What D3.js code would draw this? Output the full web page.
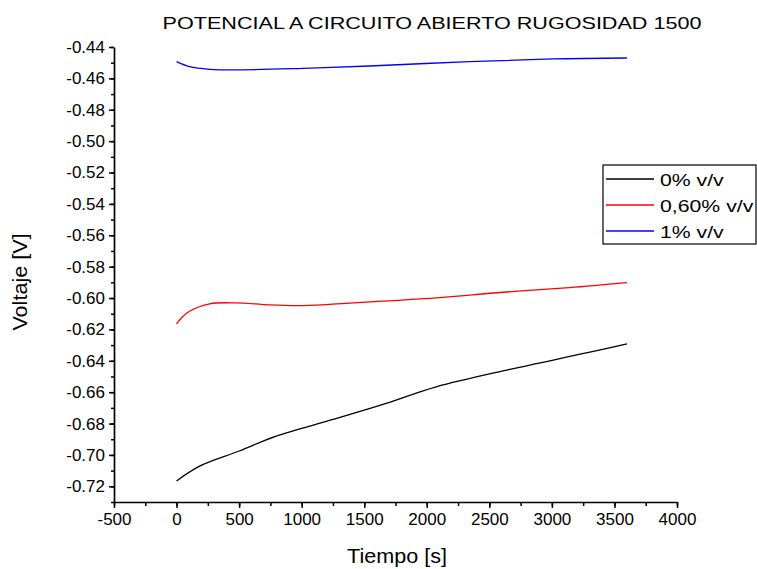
<!DOCTYPE html>
<html>
<head>
<meta charset="utf-8">
<script src="https://cdn.jsdelivr.net/npm/d3@7"></script>
<style>
  body { margin: 0; background: #fff; }
  text { font-family: "Liberation Sans", Arial, sans-serif; fill: #000; }
</style>
</head>
<body>
<div id="chart"></div>
<script>
// Chart data
const seriesNames = ["0% v/v", "0,60% v/v", "1% v/v"];
const seriesColors = ["#000000", "#ff0000", "#0000ff"];

const tBlack = [0, 184, 500, 797, 1250, 1650, 2075, 2662, 3275, 3600];
const vBlack = [-0.7166, -0.7071, -0.6975, -0.688, -0.6774, -0.6678, -0.6566, -0.6455, -0.635, -0.6292];

const tRed = [0, 50, 104, 264, 477, 743, 1010, 1410, 2075, 2608, 3141, 3600];
const vRed = [-0.6165, -0.6118, -0.6084, -0.6037, -0.6031, -0.6044, -0.6048, -0.6031, -0.5999, -0.5963, -0.5934, -0.5902];

const tBlue = [0, 104, 264, 477, 1010, 1543, 2342, 3008, 3600];
const vBlue = [-0.4493, -0.4525, -0.4542, -0.4546, -0.4536, -0.4521, -0.4493, -0.4476, -0.447];

const xTicks = [-500, 0, 500, 1000, 1500, 2000, 2500, 3000, 3500, 4000];
const yTicks = [-0.72, -0.70, -0.68, -0.66, -0.64, -0.62, -0.60, -0.58, -0.56, -0.54, -0.52, -0.50, -0.48, -0.46, -0.44];

const titleText = "POTENCIAL A CIRCUITO ABIERTO RUGOSIDAD 1500";
const xLabel = "Tiempo [s]";
const yLabel = "Voltaje [V]";

const width = 757;
const height = 569;
const plot = { left: 114, right: 677, top: 47, bottom: 502 };

const svg = d3.select("#chart").append("svg")
  .attr("width", width)
  .attr("height", height);

const x = d3.scaleLinear().domain([-500, 4000]).range([plot.left, plot.right]);
const y = d3.scaleLinear().domain([-0.73, -0.44]).range([plot.bottom, plot.top]);

// plain hyphen instead of the unicode minus d3 uses
const hyphen = f => d => f(d).replace("\u2212", "-");

// Minor ticks
const xMinor = d3.range(-500, 4001, 250);
const yMinor = d3.range(0, 30).map(i => -0.73 + i * 0.01);

svg.append("g")
  .attr("transform", `translate(0,${plot.bottom})`)
  .call(d3.axisBottom(x).tickValues(xMinor).tickSize(4).tickFormat(""))
  .call(g => g.select(".domain").remove())
  .call(g => g.selectAll("line").attr("stroke-width", 1.5));

svg.append("g")
  .attr("transform", `translate(${plot.left},0)`)
  .call(d3.axisLeft(y).tickValues(yMinor).tickSize(3).tickFormat(""))
  .call(g => g.select(".domain").remove())
  .call(g => g.selectAll("line").attr("stroke-width", 1.5));

// Major axes
const xAxis = svg.append("g")
  .attr("transform", `translate(0,${plot.bottom})`)
  .call(d3.axisBottom(x).tickValues(xTicks).tickSize(6).tickSizeOuter(0).tickPadding(5)
    .tickFormat(hyphen(d3.format("d"))));

const yAxis = svg.append("g")
  .attr("transform", `translate(${plot.left},0)`)
  .call(d3.axisLeft(y).tickValues(yTicks).tickSize(5).tickSizeOuter(0).tickPadding(4)
    .tickFormat(hyphen(d3.format(".2f"))));

[xAxis, yAxis].forEach(g => {
  g.select(".domain").attr("stroke-width", 1.7);
  g.selectAll(".tick line").attr("stroke-width", 1.5);
  g.selectAll(".tick text").style("font-size", "17px").attr("font-family", null);
});

// Lines
const line = d3.line()
  .x(d => x(d[0]))
  .y(d => y(d[1]))
  .curve(d3.curveCatmullRom.alpha(0.5));

const series = [
  d3.zip(tBlack, vBlack),
  d3.zip(tRed, vRed),
  d3.zip(tBlue, vBlue)
];

series.forEach((pts, i) => {
  svg.append("path")
    .datum(pts)
    .attr("fill", "none")
    .attr("stroke", seriesColors[i])
    .attr("stroke-width", 1.3)
    .attr("d", line);
});

// Title and axis labels (reference text is a bit stretched horizontally)
svg.append("text")
  .attr("transform", "translate(432,29) scale(1.27,1)")
  .attr("text-anchor", "middle")
  .style("font-size", "17px")
  .text(titleText);

svg.append("text")
  .attr("transform", "translate(397,563) scale(1.08,1)")
  .attr("text-anchor", "middle")
  .style("font-size", "20px")
  .text(xLabel);

svg.append("text")
  .attr("transform", "translate(27,282) rotate(-90) scale(1.08,1)")
  .attr("text-anchor", "middle")
  .style("font-size", "20px")
  .text(yLabel);

// Legend
const legend = svg.append("g").attr("transform", "translate(603,165)");
legend.append("rect")
  .attr("width", 153)
  .attr("height", 79)
  .attr("fill", "#fff")
  .attr("stroke", "#000")
  .attr("stroke-width", 1.2);

const items = legend.selectAll("g.item")
  .data(seriesNames)
  .enter()
  .append("g")
  .attr("class", "item")
  .attr("transform", (d, i) => `translate(0,${14 + i * 26})`);

items.append("line")
  .attr("x1", 3).attr("x2", 51)
  .attr("stroke", (d, i) => seriesColors[i])
  .attr("stroke-width", 1.3);

items.append("text")
  .attr("transform", "translate(57,7) scale(1.25,1)")
  .style("font-size", "17px")
  .text(d => d);
</script>
</body>
</html>
